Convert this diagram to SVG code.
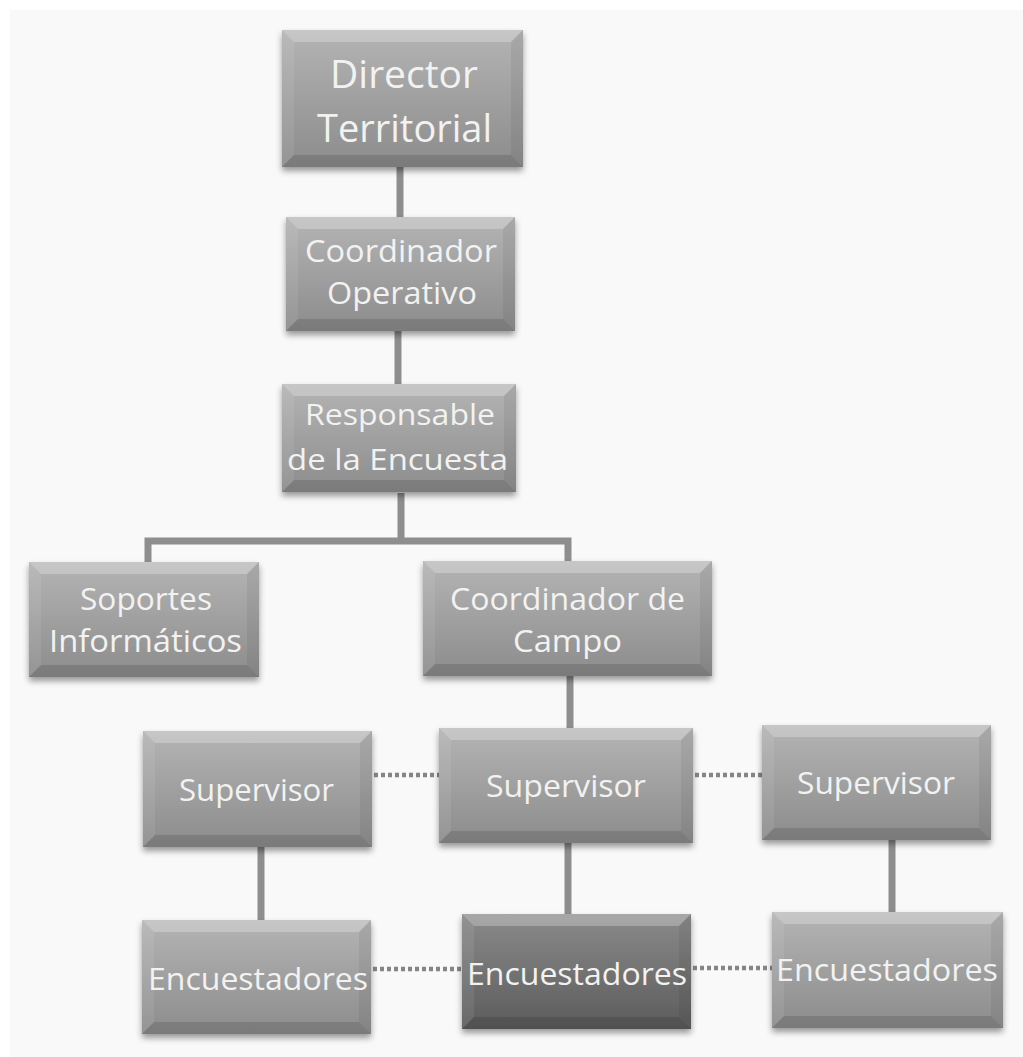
<svg xmlns="http://www.w3.org/2000/svg" width="1023" height="1057" viewBox="0 0 1023 1057">
<style>
.bg{fill:#ffffff}
.panel{fill:#f9f9f9}
.box{fill:url(#g);filter:url(#sh)}
.dark{fill:url(#gd);filter:url(#sh)}
.bt{fill:#ffffff;opacity:0.25}
.bl{fill:#ffffff;opacity:0.08}
.br{fill:#000000;opacity:0.06}
.bb{fill:#000000;opacity:0.12}
.lbl{font-family:"Open Sans","Liberation Sans",sans-serif;fill:#f2f2f2;text-anchor:start}
.con{stroke:#8e8e8e;stroke-width:7;fill:none}
.dot{stroke:#858585;stroke-width:4.5;fill:none;stroke-dasharray:4 3}
</style>
<defs>
<linearGradient id="g" x1="0" y1="0" x2="0" y2="1">
<stop offset="0" stop-color="#b4b4b4"/>
<stop offset="1" stop-color="#8c8c8c"/>
</linearGradient>
<linearGradient id="gd" x1="0" y1="0" x2="0" y2="1">
<stop offset="0" stop-color="#8a8a8a"/>
<stop offset="1" stop-color="#5c5c5c"/>
</linearGradient>
<filter id="sh" x="-10%" y="-10%" width="120%" height="130%">
<feDropShadow dx="0" dy="4" stdDeviation="3" flood-color="#000" flood-opacity="0.4"/>
</filter>
</defs>
<rect class="bg" x="0" y="0" width="1023" height="1057"/>
<rect class="panel" x="10" y="10" width="1013" height="1047"/>

<g id="connectors">
<line class="con" x1="400" y1="167" x2="400" y2="217"/>
<line class="con" x1="398" y1="331" x2="398" y2="384"/>
<polyline class="con" points="148,562 148,541 401,541 401,493 401,541 568,541 568,561"/>
<line class="con" x1="570" y1="676" x2="570" y2="728"/>
<line class="con" x1="261" y1="847" x2="261" y2="920"/>
<line class="con" x1="568" y1="843" x2="568" y2="914"/>
<line class="con" x1="892" y1="840" x2="892" y2="912"/>
<line class="dot" x1="374" y1="775" x2="439" y2="775"/>
<line class="dot" x1="695" y1="775" x2="762" y2="775"/>
<line class="dot" x1="373" y1="969" x2="462" y2="969"/>
<line class="dot" x1="693" y1="968" x2="772" y2="968"/>
</g>

<g id="director">
<rect class="box" x="282" y="30" width="241" height="137"/>
<polygon class="bt" points="282,30 523,30 511,42 294,42"/>
<polygon class="bl" points="282,30 294,42 294,155 282,167"/>
<polygon class="br" points="523,30 511,42 511,155 523,167"/>
<polygon class="bb" points="282,167 294,155 511,155 523,167"/>
<text class="lbl" x="330" y="88" font-size="39" textLength="148" lengthAdjust="spacingAndGlyphs">Director</text>
<text class="lbl" x="317" y="142" font-size="39" textLength="175" lengthAdjust="spacingAndGlyphs">Territorial</text>
</g>

<g id="coord-operativo">
<rect class="box" x="286" y="217" width="229" height="114"/>
<polygon class="bt" points="286,217 515,217 503,229 298,229"/>
<polygon class="bl" points="286,217 298,229 298,319 286,331"/>
<polygon class="br" points="515,217 503,229 503,319 515,331"/>
<polygon class="bb" points="286,331 298,319 503,319 515,331"/>
<text class="lbl" x="305" y="262" font-size="31" textLength="192" lengthAdjust="spacingAndGlyphs">Coordinador</text>
<text class="lbl" x="327" y="304" font-size="31" textLength="150" lengthAdjust="spacingAndGlyphs">Operativo</text>
</g>

<g id="responsable">
<rect class="box" x="282" y="384" width="234" height="108"/>
<polygon class="bt" points="282,384 516,384 504,396 294,396"/>
<polygon class="bl" points="282,384 294,396 294,480 282,492"/>
<polygon class="br" points="516,384 504,396 504,480 516,492"/>
<polygon class="bb" points="282,492 294,480 504,480 516,492"/>
<text class="lbl" x="305" y="425" font-size="30" textLength="190" lengthAdjust="spacingAndGlyphs">Responsable</text>
<text class="lbl" x="287" y="470" font-size="30" textLength="221" lengthAdjust="spacingAndGlyphs">de la Encuesta</text>
</g>

<g id="soportes">
<rect class="box" x="29" y="562" width="230" height="115"/>
<polygon class="bt" points="29,562 259,562 247,574 41,574"/>
<polygon class="bl" points="29,562 41,574 41,665 29,677"/>
<polygon class="br" points="259,562 247,574 247,665 259,677"/>
<polygon class="bb" points="29,677 41,665 247,665 259,677"/>
<text class="lbl" x="80" y="610" font-size="31" textLength="132" lengthAdjust="spacingAndGlyphs">Soportes</text>
<text class="lbl" x="49" y="652" font-size="31" textLength="193" lengthAdjust="spacingAndGlyphs">Informáticos</text>
</g>

<g id="coord-campo">
<rect class="box" x="423" y="561" width="289" height="115"/>
<polygon class="bt" points="423,561 712,561 700,573 435,573"/>
<polygon class="bl" points="423,561 435,573 435,664 423,676"/>
<polygon class="br" points="712,561 700,573 700,664 712,676"/>
<polygon class="bb" points="423,676 435,664 700,664 712,676"/>
<text class="lbl" x="450" y="610" font-size="31" textLength="235" lengthAdjust="spacingAndGlyphs">Coordinador de</text>
<text class="lbl" x="513" y="652" font-size="31" textLength="109" lengthAdjust="spacingAndGlyphs">Campo</text>
</g>

<g id="supervisor-1">
<rect class="box" x="143" y="731" width="229" height="116"/>
<polygon class="bt" points="143,731 372,731 360,743 155,743"/>
<polygon class="bl" points="143,731 155,743 155,835 143,847"/>
<polygon class="br" points="372,731 360,743 360,835 372,847"/>
<polygon class="bb" points="143,847 155,835 360,835 372,847"/>
<text class="lbl" x="179" y="801" font-size="31" textLength="155" lengthAdjust="spacingAndGlyphs">Supervisor</text>
</g>

<g id="supervisor-2">
<rect class="box" x="439" y="728" width="254" height="115"/>
<polygon class="bt" points="439,728 693,728 681,740 451,740"/>
<polygon class="bl" points="439,728 451,740 451,831 439,843"/>
<polygon class="br" points="693,728 681,740 681,831 693,843"/>
<polygon class="bb" points="439,843 451,831 681,831 693,843"/>
<text class="lbl" x="486" y="797" font-size="31" textLength="160" lengthAdjust="spacingAndGlyphs">Supervisor</text>
</g>

<g id="supervisor-3">
<rect class="box" x="762" y="725" width="229" height="115"/>
<polygon class="bt" points="762,725 991,725 979,737 774,737"/>
<polygon class="bl" points="762,725 774,737 774,828 762,840"/>
<polygon class="br" points="991,725 979,737 979,828 991,840"/>
<polygon class="bb" points="762,840 774,828 979,828 991,840"/>
<text class="lbl" x="797" y="794" font-size="31" textLength="158" lengthAdjust="spacingAndGlyphs">Supervisor</text>
</g>

<g id="encuestadores-1">
<rect class="box" x="142" y="920" width="229" height="114"/>
<polygon class="bt" points="142,920 371,920 359,932 154,932"/>
<polygon class="bl" points="142,920 154,932 154,1022 142,1034"/>
<polygon class="br" points="371,920 359,932 359,1022 371,1034"/>
<polygon class="bb" points="142,1034 154,1022 359,1022 371,1034"/>
<text class="lbl" x="148" y="990" font-size="31" textLength="220" lengthAdjust="spacingAndGlyphs">Encuestadores</text>
</g>

<g id="encuestadores-2">
<rect class="dark" x="462" y="914" width="229" height="115"/>
<polygon class="bt" points="462,914 691,914 679,926 474,926"/>
<polygon class="bl" points="462,914 474,926 474,1017 462,1029"/>
<polygon class="br" points="691,914 679,926 679,1017 691,1029"/>
<polygon class="bb" points="462,1029 474,1017 679,1017 691,1029"/>
<text class="lbl" x="467" y="985" font-size="31" textLength="220" lengthAdjust="spacingAndGlyphs">Encuestadores</text>
</g>

<g id="encuestadores-3">
<rect class="box" x="772" y="912" width="231" height="116"/>
<polygon class="bt" points="772,912 1003,912 991,924 784,924"/>
<polygon class="bl" points="772,912 784,924 784,1016 772,1028"/>
<polygon class="br" points="1003,912 991,924 991,1016 1003,1028"/>
<polygon class="bb" points="772,1028 784,1016 991,1016 1003,1028"/>
<text class="lbl" x="776" y="981" font-size="31" textLength="222" lengthAdjust="spacingAndGlyphs">Encuestadores</text>
</g>
</svg>
